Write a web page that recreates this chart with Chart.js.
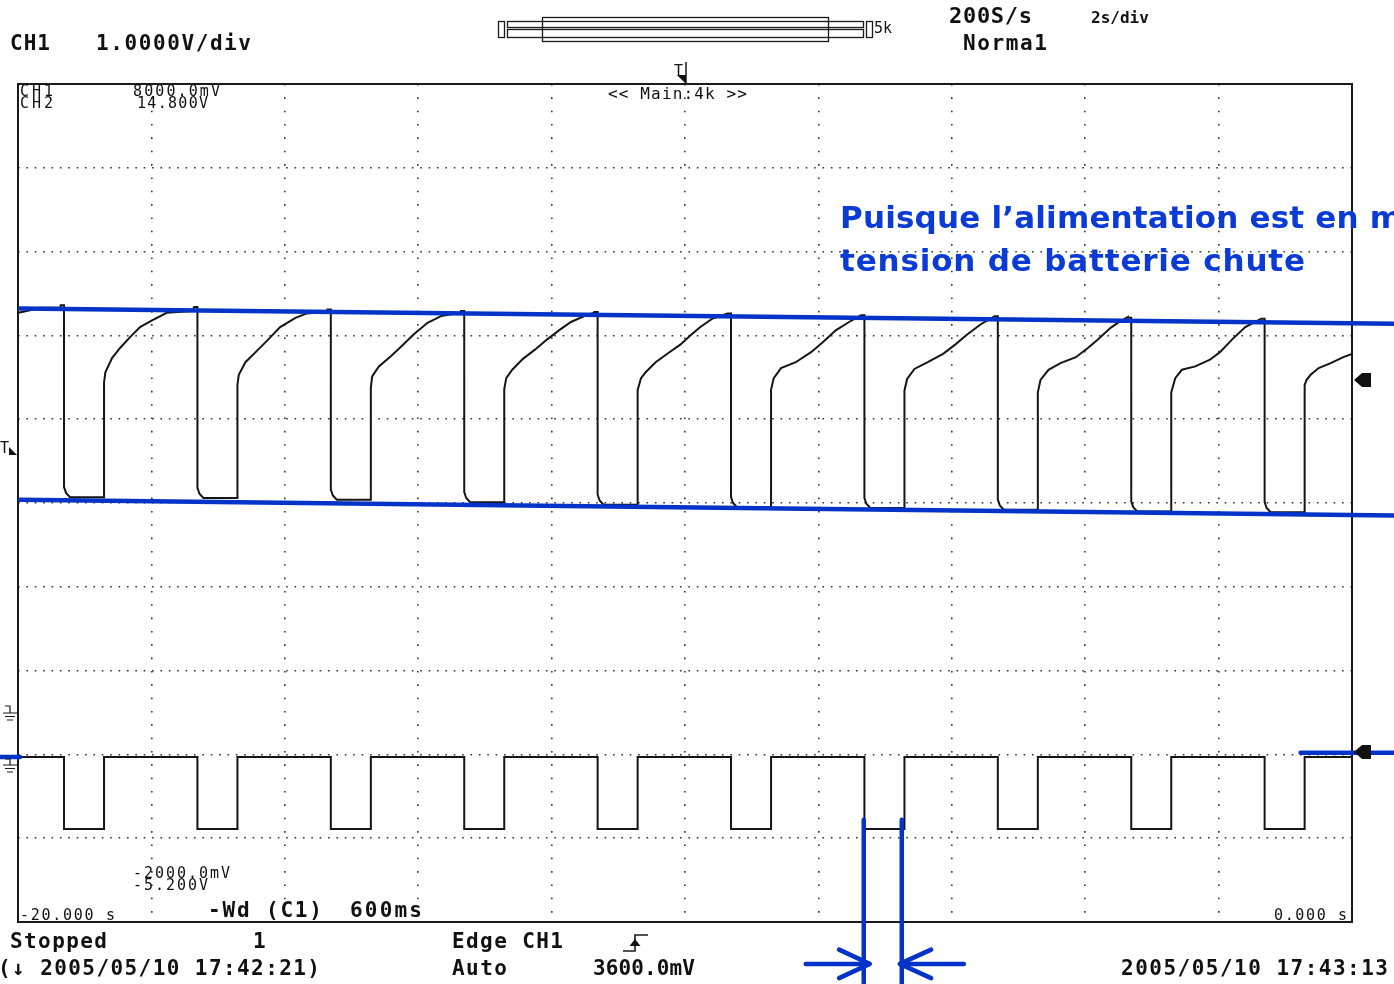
<!DOCTYPE html>
<html>
<head>
<meta charset="utf-8">
<title>Tension batterie - oscilloscope</title>
<script src="https://cdn.jsdelivr.net/npm/chart.js@4.4.0/dist/chart.umd.min.js"></script>
<style>
  html, body { margin: 0; padding: 0; background: #fff; overflow: hidden; }
  #wrap { position: relative; width: 1394px; height: 984px; }
  #scope { position: absolute; left: 0; top: 0; }
  #labels { position: absolute; left: 0; top: 0; pointer-events: none; }
  .b { font: bold 21px "DejaVu Sans Mono", monospace; fill: #111; }
  .m { font: bold 22px "DejaVu Sans Mono", monospace; fill: #111; }
  .d { font: bold 16px "DejaVu Sans Mono", monospace; fill: #111; }
  .s { font: 15px "DejaVu Sans Mono", monospace; fill: #111; }
  .s14 { font: 16px "DejaVu Sans Mono", monospace; fill: #111; }
  .note { font: bold 31px "DejaVu Sans", sans-serif; fill: #0b3bd6; }
</style>
</head>
<body>
<div id="wrap">
<canvas id="scope" width="1394" height="984"></canvas>
<svg id="labels" width="1394" height="984" xmlns="http://www.w3.org/2000/svg">
  <text class="b" x="10" y="50" textLength="40">CH1</text>
  <text class="b" x="96" y="50" textLength="155">1.0000V/div</text>
  <text class="m" x="949" y="23" textLength="83">200S/s</text>
  <text class="d" x="1091" y="23">2s/div</text>
  <text class="b" x="963" y="50" textLength="84">Norma1</text>
  <text class="s" x="874" y="33">5k</text>

  <text class="s" x="20" y="96" textLength="33">CH1</text>
  <text class="s" x="20" y="108" textLength="33">CH2</text>
  <text class="s" x="133" y="96" textLength="87">8000.0mV</text>
  <text class="s" x="137" y="108" textLength="71">14.800V</text>
  <text class="s14" x="608" y="99" textLength="139">&lt;&lt; Main:4k &gt;&gt;</text>
  <text class="s" x="133" y="878" textLength="97">-2000.0mV</text>
  <text class="s" x="133" y="890" textLength="75">-5.200V</text>
  <text class="s" x="20" y="920" textLength="95">-20.000 s</text>
  <text class="s" x="1274" y="920" textLength="73">0.000 s</text>
  <text class="b" x="208" y="917" textLength="114">-Wd (C1)</text>
  <text class="b" x="350" y="917" textLength="72">600ms</text>

  <text class="s" x="0" y="453">T</text>
  <text class="s" x="674" y="76">T</text>

  <text class="b" x="10" y="948" textLength="97">Stopped</text>
  <text class="b" x="253" y="948">1</text>
  <text class="b" x="-2" y="975" textLength="322">(↓ 2005/05/10 17:42:21)</text>
  <text class="b" x="452" y="948" textLength="111">Edge CH1</text>
  <text class="b" x="452" y="975" textLength="55">Auto</text>
  <text class="b" x="593" y="975" textLength="102">3600.0mV</text>
  <text class="b" x="1121" y="975" textLength="267">2005/05/10 17:43:13</text>

  <text class="note" x="840" y="228" textLength="562">Puisque l’alimentation est en m</text>
  <text class="note" x="840" y="271" textLength="465">tension de batterie chute</text>
</svg>
</div>
<script>
// time axis: -20 s .. 0 s, 2 s/div
// CH1 (battery) 1 V/div, -2 .. 8 V ; CH2 (pulses) 2 V/div, -5.2 .. 14.8 V
const dropTimes = [-19.31, -17.31, -15.31, -13.31, -11.31, -9.31, -7.31, -5.31, -3.31, -1.31];
const pulseWidth = 0.6;
const pulseHigh = -1.26;
const pulseLow = -2.98;

// CH1 trace, before the first pulse
const battStart = [[-20, 5.27], [-19.94, 5.28], [-19.82, 5.30], [-19.67, 5.33], [-19.36, 5.33]];
// level just before each drop, and floor during the pulse
const battSpike = [5.36, 5.34, 5.31, 5.29, 5.28, 5.26, 5.24, 5.23, 5.21, 5.20];
const battFloor = [3.07, 3.06, 3.04, 3.01, 2.98, 2.95, 2.94, 2.92, 2.90, 2.89];
// knee at the bottom of each drop: [s after drop, V above floor]
const dropShape = [[0, 0.12], [0.03, 0.05], [0.09, 0]];
// recovery after pulse end: seconds after end, volts
const recoveryTimes = [
  [0, 0.02, 0.12, 0.24, 0.39, 0.54, 0.72, 0.94, 1.32],
  [0, 0.02, 0.12, 0.31, 0.46, 0.64, 0.87, 1.03, 1.35],
  [0, 0.02, 0.12, 0.30, 0.46, 0.64, 0.85, 1.05, 1.35],
  [0, 0.03, 0.12, 0.28, 0.46, 0.64, 0.82, 1.00, 1.20, 1.35],
  [0, 0.05, 0.12, 0.27, 0.46, 0.64, 0.79, 0.94, 1.12, 1.35],
  [0, 0.04, 0.15, 0.37, 0.60, 0.78, 0.97, 1.17, 1.35],
  [0, 0.04, 0.15, 0.35, 0.58, 0.76, 0.94, 1.14, 1.35],
  [0, 0.04, 0.16, 0.34, 0.57, 0.75, 0.90, 1.09, 1.20, 1.35],
  [0, 0.06, 0.16, 0.36, 0.58, 0.73, 0.91, 1.11, 1.23, 1.35],
  [0, 0.03, 0.09, 0.21, 0.39, 0.58, 0.71]
];
const recoveryVolts = [
  [4.44, 4.56, 4.73, 4.85, 4.98, 5.10, 5.18, 5.27, 5.29],
  [4.41, 4.53, 4.68, 4.83, 4.95, 5.10, 5.21, 5.26, 5.28],
  [4.38, 4.51, 4.63, 4.75, 4.87, 5.01, 5.15, 5.23, 5.27],
  [4.36, 4.49, 4.59, 4.72, 4.83, 4.95, 5.06, 5.16, 5.23, 5.27],
  [4.35, 4.49, 4.56, 4.68, 4.79, 4.89, 5.00, 5.10, 5.20, 5.26],
  [4.35, 4.49, 4.61, 4.68, 4.80, 4.92, 5.06, 5.16, 5.24],
  [4.34, 4.48, 4.60, 4.68, 4.78, 4.89, 5.01, 5.13, 5.23],
  [4.32, 4.47, 4.59, 4.67, 4.74, 4.85, 4.95, 5.09, 5.15, 5.22],
  [4.32, 4.49, 4.59, 4.63, 4.71, 4.80, 4.95, 5.10, 5.15, 5.20],
  [4.41, 4.47, 4.53, 4.61, 4.67, 4.74, 4.78]
];

// hand drawn blue marks, in s / CH1 volts
const noteLines = [
  [[-19.97, 5.32], [0.63, 5.14]],
  [[-19.97, 3.04], [0.63, 2.85]],
  [[-20.27, -0.03], [-19.97, -0.03]],
  [[-0.77, 0.02], [0.63, 0.02]],
  [[-7.32, -0.78], [-7.32, -2.8]],
  [[-6.75, -0.78], [-6.75, -2.8]],
  [[-8.19, -2.50], [-7.25, -2.50]],
  [[-7.69, -2.33], [-7.23, -2.50], [-7.69, -2.67]],
  [[-5.82, -2.50], [-6.76, -2.50]],
  [[-6.31, -2.33], [-6.78, -2.50], [-6.31, -2.67]]
];

const BLUE = '#0433c9';
const INK = '#151515';

const batt = battStart.map(([x, y]) => ({ x, y }));
dropTimes.forEach((td, k) => {
  batt.push({ x: td - 0.05, y: battSpike[k] }, { x: td, y: battSpike[k] });
  dropShape.forEach(([dt, dv]) => batt.push({ x: td + dt, y: battFloor[k] + dv }));
  batt.push({ x: td + pulseWidth, y: battFloor[k] });
  recoveryTimes[k].forEach((dt, i) => batt.push({ x: td + pulseWidth + dt, y: recoveryVolts[k][i] }));
});

const pulse = [{ x: -20, y: pulseHigh }];
dropTimes.forEach(td => {
  pulse.push({ x: td, y: pulseHigh }, { x: td, y: pulseLow },
             { x: td + pulseWidth, y: pulseLow }, { x: td + pulseWidth, y: pulseHigh });
});
pulse.push({ x: 0, y: pulseHigh });

// frame round the graticule
const framePlugin = {
  id: 'frame',
  beforeDatasetsDraw(chart) {
    const { ctx, chartArea: a } = chart;
    ctx.save();
    ctx.strokeStyle = '#1a1a1a';
    ctx.lineWidth = 2;
    ctx.strokeRect(a.left, a.top, a.right - a.left, a.bottom - a.top);
    ctx.restore();
  }
};

// scope screen furniture: memory bar, markers, ground symbols, edge icon
const furniturePlugin = {
  id: 'furniture',
  afterDraw(chart) {
    const ctx = chart.ctx;
    ctx.save();
    ctx.strokeStyle = '#1a1a1a';
    ctx.fillStyle = '#111';
    ctx.lineWidth = 1.3;
    ctx.strokeRect(498.5, 21.5, 6, 16);
    ctx.strokeRect(507.5, 21.5, 356, 6);
    ctx.strokeRect(507.5, 29.5, 356, 8);
    ctx.strokeRect(542.5, 17.5, 286, 24);
    ctx.strokeRect(866.5, 21.5, 6, 16);

    // trigger position (top)
    ctx.lineWidth = 1.5;
    ctx.beginPath(); ctx.moveTo(686, 62); ctx.lineTo(686, 84); ctx.stroke();
    ctx.beginPath(); ctx.moveTo(677, 75); ctx.lineTo(686, 75); ctx.lineTo(686, 84); ctx.closePath(); ctx.fill();
    // trigger level (left)
    ctx.beginPath(); ctx.moveTo(9, 447); ctx.lineTo(17, 455); ctx.lineTo(9, 455); ctx.closePath(); ctx.fill();

    // channel markers (right)
    [380, 752].forEach(y => {
      ctx.beginPath();
      ctx.moveTo(1354, y); ctx.lineTo(1362, y - 7); ctx.lineTo(1371, y - 7);
      ctx.lineTo(1371, y + 7); ctx.lineTo(1362, y + 7); ctx.closePath(); ctx.fill();
    });

    // ground symbols (left)
    ctx.lineWidth = 1.2;
    [[706, 713], [759, 765]].forEach(([y0, y1]) => {
      ctx.beginPath();
      ctx.moveTo(5, y0); ctx.lineTo(10, y0); ctx.lineTo(10, y1);
      ctx.moveTo(3, y1); ctx.lineTo(17, y1);
      ctx.moveTo(5, y1 + 3.5); ctx.lineTo(15, y1 + 3.5);
      ctx.moveTo(7, y1 + 7); ctx.lineTo(13, y1 + 7);
      ctx.stroke();
    });

    // rising edge icon
    ctx.lineWidth = 1.6;
    ctx.beginPath();
    ctx.moveTo(623, 951); ctx.lineTo(635, 951); ctx.lineTo(635, 935); ctx.lineTo(648, 935);
    ctx.stroke();
    ctx.beginPath(); ctx.moveTo(629.5, 946); ctx.lineTo(640.5, 946); ctx.lineTo(635, 939); ctx.closePath(); ctx.fill();
    ctx.restore();
  }
};

const dotGrid = (gap) => ({
  grid: {
    color: c => (c.index === 0 || c.index === 10) ? 'rgba(0,0,0,0)' : '#333',
    lineWidth: 1.6,
    drawTicks: false
  },
  border: { display: false, dash: [1.6, gap] },
  ticks: { display: false }
});

const ctx = document.getElementById('scope').getContext('2d');
new Chart(ctx, {
  type: 'scatter',
  data: {
    datasets: [
      ...noteLines.map(seg => ({
        data: seg.map(([x, y]) => ({ x, y })),
        borderColor: BLUE,
        borderWidth: 4.5,
        borderCapStyle: 'round',
        borderJoinStyle: 'round',
        showLine: true,
        pointRadius: 0,
        clip: false,
        order: 0,
        yAxisID: 'y'
      })),
      {
        label: 'CH1',
        data: batt,
        borderColor: INK,
        borderWidth: 2,
        showLine: true,
        pointRadius: 0,
        tension: 0,
        order: 1,
        yAxisID: 'y'
      },
      {
        label: 'CH2',
        data: pulse,
        borderColor: INK,
        borderWidth: 2,
        showLine: true,
        pointRadius: 0,
        tension: 0,
        order: 1,
        yAxisID: 'y2'
      }
    ]
  },
  options: {
    responsive: false,
    animation: false,
    events: [],
    layout: { padding: { left: 18, top: 84, right: 42, bottom: 62 } },
    plugins: { legend: { display: false }, tooltip: { enabled: false } },
    scales: {
      x: { type: 'linear', min: -20, max: 0, ...dotGrid(11.74), ticks: { display: false, stepSize: 2 } },
      y: { type: 'linear', min: -2, max: 8, ...dotGrid(6.78), ticks: { display: false, stepSize: 1 } },
      y2: { type: 'linear', min: -5.2, max: 14.8, display: false }
    }
  },
  plugins: [framePlugin, furniturePlugin]
});
</script>
</body>
</html>
